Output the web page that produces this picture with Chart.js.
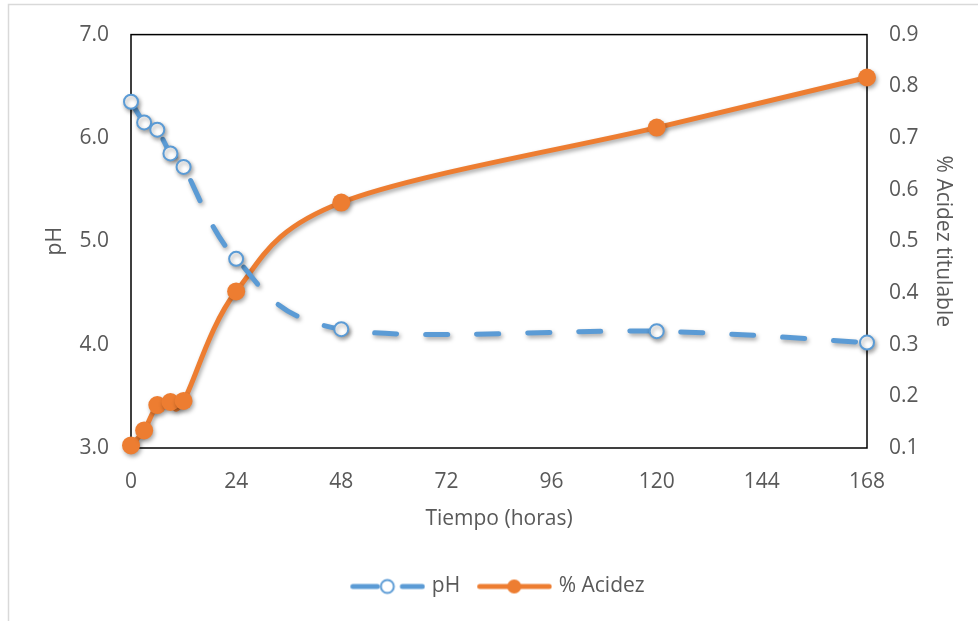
<!DOCTYPE html>
<html>
<head>
<meta charset="utf-8">
<script src="https://cdn.jsdelivr.net/npm/chart.js@4/dist/chart.umd.min.js"></script>
<style>
  html, body { margin: 0; padding: 0; background: #ffffff; }
  #wrap { width: 978px; height: 621px; position: relative; }
</style>
</head>
<body>
<div id="wrap"><canvas id="c" width="978" height="621"></canvas></div>
<script>
// Sampling times (hours)
const horas = [0, 3, 6, 9, 12, 24, 48, 120, 168];
// pH measured at each time
const ph = [6.35, 6.15, 6.08, 5.85, 5.72, 4.83, 4.15, 4.13, 4.02];
// Titratable acidity (%) at each time
const acidez = [0.105, 0.134, 0.183, 0.189, 0.191, 0.403, 0.575, 0.72, 0.817];
// Axis ticks
const xTicks = [0, 24, 48, 72, 96, 120, 144, 168];
const phTicks = [3.0, 4.0, 5.0, 6.0, 7.0];
const acidezTicks = [0.1, 0.2, 0.3, 0.4, 0.5, 0.6, 0.7, 0.8, 0.9];

const BLUE = '#5B9BD5';
const ORANGE = '#ED7D31';
const TEXT = '#595959';
const FONT = "'Open Sans', 'Noto Sans', sans-serif";
const FS = 21;

// Legend swatches: line segment with the series marker in it
function swatch(kind) {
  const c = document.createElement('canvas');
  c.width = 76; c.height = 18;
  const g = c.getContext('2d');
  g.lineCap = 'round';
  g.lineWidth = 5;
  if (kind === 'ph') {
    g.strokeStyle = BLUE;
    g.beginPath(); g.moveTo(3.5, 9); g.lineTo(28, 9); g.stroke();
    g.beginPath(); g.moveTo(53, 9); g.lineTo(73, 9); g.stroke();
    g.lineWidth = 2;
    g.fillStyle = '#fff';
    g.beginPath(); g.arc(38, 9, 6.5, 0, Math.PI * 2); g.fill(); g.stroke();
  } else {
    g.strokeStyle = ORANGE;
    g.beginPath(); g.moveTo(3.5, 9); g.lineTo(73, 9); g.stroke();
    g.fillStyle = ORANGE;
    g.beginPath(); g.arc(38, 9, 7, 0, Math.PI * 2); g.fill();
  }
  return c;
}

// Smooth curves as Catmull-Rom splines (control points at 1/6 of the
// neighbour-to-neighbour span), then a soft drop shadow under each series
const curvePlugin = {
  id: 'curveAndShadow',
  beforeDatasetDraw(chart, args) {
    const meta = args.meta;
    const line = meta.dataset;
    if (line) {
      line.updateControlPoints(chart.chartArea, meta.controller._cachedMeta.indexAxis || 'x');
      const pts = meta.data;
      for (let i = 0; i < pts.length; i++) {
        const p = pts[i];
        const a = pts[i - 1] || p;
        const b = pts[i + 1] || p;
        const dx = (b.x - a.x) / 6;
        const dy = (b.y - a.y) / 6;
        p.cp1x = p.x - dx; p.cp1y = p.y - dy;
        p.cp2x = p.x + dx; p.cp2y = p.y + dy;
      }
      line._path = undefined;
    }
    const ctx = chart.ctx;
    ctx.save();
    ctx.shadowColor = 'rgba(0,0,0,0.35)';
    ctx.shadowBlur = 4;
    ctx.shadowOffsetX = 1.5;
    ctx.shadowOffsetY = 2.5;
  },
  afterDatasetDraw(chart) { chart.ctx.restore(); }
};

// Outer frame and the black box around the plot area
const framePlugin = {
  id: 'frame',
  beforeDraw(chart) {
    const ctx = chart.ctx;
    ctx.save();
    ctx.fillStyle = '#fff';
    ctx.fillRect(0, 0, chart.width, chart.height);
    ctx.strokeStyle = '#d9d9d9';
    ctx.lineWidth = 1.5;
    ctx.strokeRect(8.5, 4.5, chart.width + 20, chart.height + 20);
    ctx.restore();
  },
  beforeDatasetsDraw(chart) {
    const a = chart.chartArea;
    const ctx = chart.ctx;
    ctx.save();
    ctx.strokeStyle = '#000';
    ctx.lineWidth = 1.5;
    ctx.strokeRect(a.left, a.top, a.right - a.left, a.bottom - a.top);
    ctx.restore();
  }
};

const ctx = document.getElementById('c').getContext('2d');
new Chart(ctx, {
  type: 'line',
  data: {
    datasets: [
      {
        label: 'pH',
        data: horas.map((h, i) => ({ x: h, y: ph[i] })),
        yAxisID: 'yPH',
        borderColor: BLUE,
        borderWidth: 5,
        borderDash: [22, 29],
        borderCapStyle: 'round',
        tension: 0.4,
        pointRadius: 7,
        pointBorderWidth: 2,
        pointBackgroundColor: '#ffffff',
        pointBorderColor: BLUE,
        pointStyle: 'circle',
        clip: false
      },
      {
        label: '% Acidez',
        data: horas.map((h, i) => ({ x: h, y: acidez[i] })),
        yAxisID: 'yAc',
        borderColor: ORANGE,
        borderWidth: 5,
        borderCapStyle: 'round',
        tension: 0.4,
        pointRadius: 9,
        pointBorderWidth: 0,
        pointBackgroundColor: ORANGE,
        pointBorderColor: ORANGE,
        clip: false
      }
    ]
  },
  options: {
    responsive: false,
    animation: false,
    layout: { padding: { left: 38, right: 18, top: 33, bottom: 14 } },
    plugins: {
      tooltip: { enabled: false },
      legend: {
        position: 'bottom',
        labels: {
          usePointStyle: true,
          pointStyleWidth: 68,
          padding: 20,
          color: TEXT,
          font: { family: FONT, size: FS },
          generateLabels(chart) {
            return [
              { text: 'pH', pointStyle: swatch('ph'), fontColor: TEXT, datasetIndex: 0, lineWidth: 0, hidden: false },
              { text: '% Acidez', pointStyle: swatch('ac'), fontColor: TEXT, datasetIndex: 1, lineWidth: 0, hidden: false }
            ];
          }
        }
      }
    },
    scales: {
      x: {
        type: 'linear',
        min: xTicks[0],
        max: xTicks[xTicks.length - 1],
        afterBuildTicks(s) { s.ticks = xTicks.map(v => ({ value: v })); },
        afterFit(s) { s.height = 108; },
        grid: { display: false, drawTicks: false },
        border: { display: false },
        ticks: { color: TEXT, font: { family: FONT, size: FS }, padding: 21, maxRotation: 0 },
        title: {
          display: true, text: 'Tiempo (horas)', color: TEXT,
          font: { family: FONT, size: FS }, padding: { top: 4, bottom: 24 }
        }
      },
      yPH: {
        position: 'left',
        min: 3, max: 7,
        afterBuildTicks(s) { s.ticks = phTicks.map(v => ({ value: v })); },
        afterFit(s) { s.width = 93; },
        grid: { display: false, drawTicks: false },
        border: { display: false },
        ticks: { color: TEXT, font: { family: FONT, size: FS }, padding: 22, callback: v => v.toFixed(1) },
        title: { display: true, text: 'pH', color: TEXT, font: { family: FONT, size: FS } }
      },
      yAc: {
        position: 'right',
        min: 0.1, max: 0.9,
        afterBuildTicks(s) { s.ticks = acidezTicks.map(v => ({ value: v })); },
        afterFit(s) { s.width = 93; },
        grid: { display: false, drawTicks: false },
        border: { display: false },
        ticks: { color: TEXT, font: { family: FONT, size: FS }, padding: 22, callback: v => v.toFixed(1) },
        title: { display: true, text: '% Acidez titulable', color: TEXT, font: { family: FONT, size: FS } }
      }
    }
  },
  plugins: [framePlugin, curvePlugin]
});
</script>
</body>
</html>
